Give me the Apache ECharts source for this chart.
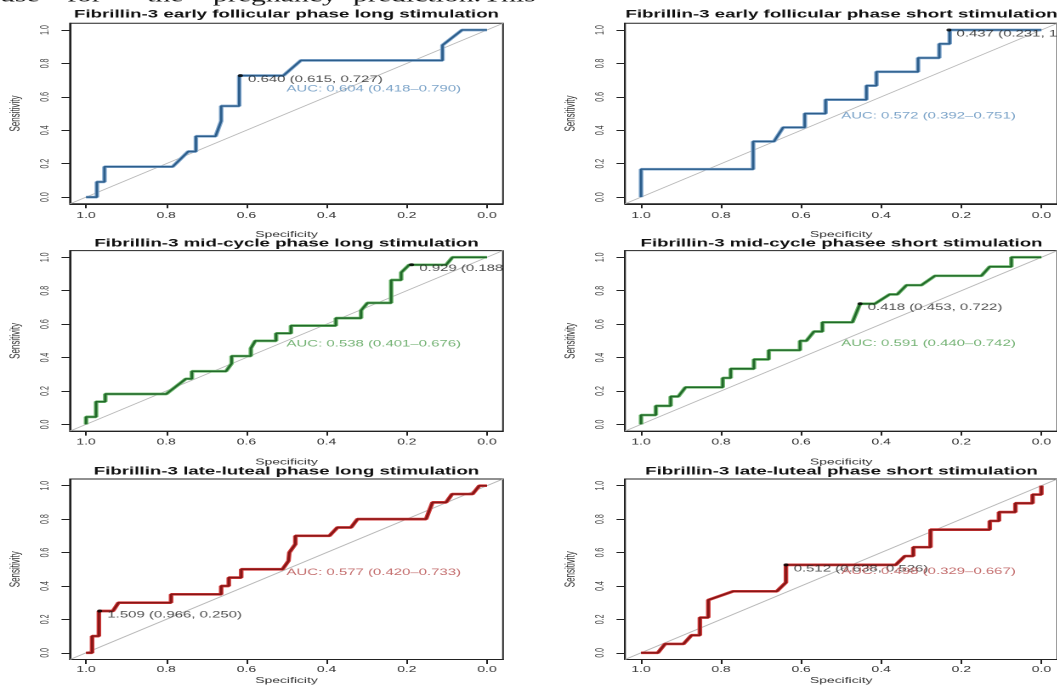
<!DOCTYPE html>
<html>
<head>
<meta charset="utf-8">
<script src="https://cdn.jsdelivr.net/npm/echarts@6/dist/echarts.min.js"></script>
<style>
  html, body { margin: 0; padding: 0; background: #fff; overflow: hidden; }
  #wrap { width: 1057px; height: 687px; overflow: hidden; position: relative; background: #fff; }
  #chart { position: absolute; left: 0; top: 0; height: 687px; transform-origin: 0 0; }
</style>
</head>
<body>
<div id="wrap"><div id="chart"></div></div>
<script>
// the source figure is stretched sideways, so draw narrow and widen with css
const STRETCH = 1.7;

const titles = [
  "Fibrillin-3 early follicular phase long stimulation",
  "Fibrillin-3 early follicular phase short stimulation",
  "Fibrillin-3 mid-cycle phase long stimulation",
  "Fibrillin-3 mid-cycle phasee short stimulation",
  "Fibrillin-3 late-luteal phase long stimulation",
  "Fibrillin-3 late-luteal phase short stimulation",
];

// [specificity, sensitivity]
const rocEarlyLong = [
  [1.000, 0.000], [0.973, 0.000], [0.973, 0.091], [0.954, 0.091], [0.954, 0.182],
  [0.784, 0.182], [0.745, 0.273], [0.726, 0.273], [0.726, 0.364], [0.677, 0.364],
  [0.663, 0.455], [0.663, 0.545], [0.618, 0.545], [0.618, 0.727], [0.508, 0.727],
  [0.464, 0.818], [0.111, 0.818], [0.111, 0.909], [0.062, 1.000], [0.000, 1.000],
];
const rocEarlyShort = [
  [1.000, 0.000], [1.000, 0.167], [0.720, 0.167], [0.720, 0.333], [0.668, 0.333],
  [0.645, 0.417], [0.591, 0.417], [0.591, 0.500], [0.539, 0.500], [0.539, 0.583],
  [0.437, 0.583], [0.437, 0.667], [0.412, 0.667], [0.412, 0.750], [0.308, 0.750],
  [0.308, 0.833], [0.255, 0.833], [0.255, 0.917], [0.229, 0.917], [0.229, 1.000],
  [0.000, 1.000],
];
const rocMidLong = [
  [1.000, 0.000], [1.000, 0.045], [0.975, 0.045], [0.975, 0.136], [0.952, 0.136],
  [0.952, 0.182], [0.800, 0.182], [0.751, 0.273], [0.736, 0.273], [0.736, 0.318],
  [0.651, 0.318], [0.637, 0.364], [0.637, 0.409], [0.589, 0.409], [0.589, 0.455],
  [0.578, 0.500], [0.526, 0.500], [0.526, 0.545], [0.489, 0.545], [0.489, 0.591],
  [0.377, 0.591], [0.377, 0.636], [0.314, 0.636], [0.314, 0.682], [0.298, 0.727],
  [0.239, 0.727], [0.239, 0.864], [0.214, 0.864], [0.214, 0.909], [0.194, 0.955],
  [0.102, 0.955], [0.086, 1.000], [0.000, 1.000],
];
const rocMidShort = [
  [1.000, 0.000], [1.000, 0.056], [0.963, 0.056], [0.963, 0.111], [0.926, 0.111],
  [0.926, 0.167], [0.907, 0.167], [0.889, 0.222], [0.796, 0.222], [0.796, 0.278],
  [0.776, 0.278], [0.776, 0.333], [0.718, 0.333], [0.718, 0.389], [0.681, 0.389],
  [0.681, 0.444], [0.603, 0.444], [0.603, 0.500], [0.587, 0.500], [0.568, 0.556],
  [0.547, 0.556], [0.547, 0.611], [0.472, 0.611], [0.453, 0.722], [0.416, 0.722],
  [0.379, 0.778], [0.360, 0.778], [0.337, 0.833], [0.300, 0.833], [0.266, 0.889],
  [0.150, 0.889], [0.129, 0.944], [0.075, 0.944], [0.075, 1.000], [0.000, 1.000],
];
const rocLateLong = [
  [1.000, 0.000], [0.985, 0.000], [0.985, 0.100], [0.968, 0.100], [0.968, 0.250],
  [0.933, 0.250], [0.919, 0.300], [0.788, 0.300], [0.788, 0.350], [0.663, 0.350],
  [0.663, 0.400], [0.644, 0.400], [0.644, 0.450], [0.613, 0.450], [0.613, 0.500],
  [0.510, 0.500], [0.495, 0.550], [0.493, 0.600], [0.478, 0.650], [0.478, 0.700],
  [0.393, 0.700], [0.373, 0.750], [0.339, 0.750], [0.323, 0.800], [0.152, 0.800],
  [0.136, 0.900], [0.102, 0.900], [0.087, 0.950], [0.036, 0.950], [0.019, 1.000],
  [0.000, 1.000],
];
const rocLateShort = [
  [1.000, 0.000], [0.958, 0.000], [0.940, 0.053], [0.894, 0.053], [0.874, 0.105],
  [0.853, 0.105], [0.853, 0.211], [0.832, 0.211], [0.832, 0.316], [0.770, 0.368],
  [0.661, 0.368], [0.638, 0.421], [0.638, 0.526], [0.364, 0.526], [0.341, 0.579],
  [0.320, 0.579], [0.320, 0.632], [0.277, 0.632], [0.277, 0.737], [0.129, 0.737],
  [0.129, 0.789], [0.106, 0.789], [0.106, 0.842], [0.065, 0.842], [0.065, 0.895],
  [0.022, 0.895], [0.022, 0.947], [0.000, 0.947], [0.000, 1.000],
];
const rocCurves = [rocEarlyLong, rocEarlyShort, rocMidLong, rocMidShort, rocLateLong, rocLateShort];

// best threshold printed on each curve
const thrValue = [0.640, 0.437, 0.929, 0.418, 1.509, 0.512];
const thrSpec = [0.615, 0.231, 0.188, 0.453, 0.966, 0.638];
const thrSens = [0.727, 1.000, 0.955, 0.722, 0.250, 0.526];

const aucValue = [0.604, 0.572, 0.538, 0.591, 0.577, 0.498];
const aucLow = [0.418, 0.392, 0.401, 0.440, 0.420, 0.329];
const aucHigh = [0.790, 0.751, 0.676, 0.742, 0.733, 0.667];
const aucTextX = [0.5, 0.5, 0.5, 0.5, 0.5, 0.5];
const aucTextY = [0.645, 0.485, 0.481, 0.483, 0.481, 0.485];

const tickValues = [0, 0.2, 0.4, 0.6, 0.8, 1.0];
const AX_MIN = -0.04;
const AX_MAX = 1.04;

const headerWords = ["use", "for", "the", "pregnancy", "prediction.", "This"];

// layout, in page pixels (divided by STRETCH for the narrow canvas)
const colLeft = [70, 625];
const boxW = 433;
const rowTop = [23.3, 250.6, 479];
const boxH = 180.5;
const titleY = [14.5, 243.5, 471.5];
const xLabelMargin = [8, 7, 6];
const xNameGap = [27, 27, 17];
const headerX = [0, 67, 147, 213, 353, 483];

const palette = [
  { core: "#2d5e8b", halo: "#86abd0", text: "#5b8dbb" },
  { core: "#22692a", halo: "#72bb72", text: "#52a052" },
  { core: "#861616", halo: "#d23c3c", text: "#b54848" },
];

const FONT = "'Liberation Sans', Arial, Helvetica, sans-serif";
const px = (v) => v / STRETCH;

const chartDom = document.getElementById("chart");
chartDom.style.width = 1057 / STRETCH + "px";
chartDom.style.transform = "scaleX(" + STRETCH + ")";
const myChart = echarts.init(chartDom, null, { devicePixelRatio: 2 });

const grids = [], xAxes = [], yAxes = [], series = [], graphics = [];

rocCurves.forEach((curve, i) => {
  const row = Math.floor(i / 2);
  const col = i % 2;
  const left = px(colLeft[col]);
  const width = px(boxW);
  const colors = palette[row];

  grids.push({
    left: left, top: rowTop[row], width: width, height: boxH,
    show: true, borderColor: "#222", borderWidth: 1, backgroundColor: "#fff",
  });

  xAxes.push({
    gridIndex: i, type: "value", inverse: true, min: AX_MIN, max: AX_MAX, position: "bottom",
    axisLine: { show: true, onZero: false, lineStyle: { color: "#222", width: 1 } },
    axisTick: { show: true, customValues: tickValues, length: 4.5, lineStyle: { color: "#222", width: 1 } },
    axisLabel: {
      customValues: tickValues, formatter: (v) => v.toFixed(1),
      fontFamily: FONT, fontSize: 8.2, color: "#333", margin: xLabelMargin[row],
    },
    splitLine: { show: false },
    name: "Specificity", nameLocation: "middle", nameGap: xNameGap[row],
    nameTextStyle: { fontFamily: FONT, fontSize: 8.2, color: "#333" },
  });

  yAxes.push({
    gridIndex: i, type: "value", min: AX_MIN, max: AX_MAX, position: "left",
    axisLine: { show: true, onZero: false, lineStyle: { color: "#222", width: 1 } },
    axisTick: { show: true, customValues: tickValues, length: 5, lineStyle: { color: "#222", width: 1 } },
    axisLabel: {
      customValues: tickValues, formatter: (v) => v.toFixed(1), rotate: 90,
      fontFamily: FONT, fontSize: 7, color: "#444", margin: 11,
    },
    splitLine: { show: false },
    name: "Sensitivity", nameLocation: "middle", nameGap: 28,
    nameTextStyle: { fontFamily: FONT, fontSize: 8, color: "#333" },
  });

  // chance diagonal across the whole box
  series.push({
    type: "line", xAxisIndex: i, yAxisIndex: i, silent: true, symbol: "none", z: 1,
    data: [[AX_MAX, AX_MIN], [AX_MIN, AX_MAX]],
    lineStyle: { color: "#b8b8b8", width: 0.8 },
  });
  series.push({
    type: "line", xAxisIndex: i, yAxisIndex: i, silent: true, symbol: "none", z: 2,
    data: curve, lineStyle: { color: colors.halo, width: 2.7 },
  });
  series.push({
    type: "line", xAxisIndex: i, yAxisIndex: i, silent: true, symbol: "none", z: 3,
    data: curve, lineStyle: { color: colors.core, width: 1.4 },
  });

  // threshold text is clipped at the box edge, as in R
  const pointX = left + ((AX_MAX - thrSpec[i]) / (AX_MAX - AX_MIN)) * width;
  const labelWidth = left + width - pointX - 3;
  series.push({
    type: "scatter", xAxisIndex: i, yAxisIndex: i, silent: true, z: 4,
    symbol: "circle", symbolSize: 3, itemStyle: { color: "#000" },
    data: [[thrSpec[i], thrSens[i], thrValue[i]]],
    label: {
      show: true, position: "right", distance: 3, offset: [0, 4],
      formatter: (p) =>
        p.value[2].toFixed(3) + " (" + p.value[0].toFixed(3) + ", " + p.value[1].toFixed(3) + ")",
      fontFamily: FONT, fontSize: 8.8, color: "#222",
      width: labelWidth, overflow: "truncate", ellipsis: "",
    },
  });
  series.push({
    type: "scatter", xAxisIndex: i, yAxisIndex: i, silent: true, z: 5,
    symbolSize: 0, data: [[aucTextX[i], aucTextY[i]]],
    label: {
      show: true, position: "right", distance: 0,
      formatter: () =>
        "AUC: " + aucValue[i].toFixed(3) + " (" + aucLow[i].toFixed(3) + "\u2013" + aucHigh[i].toFixed(3) + ")",
      fontFamily: FONT, fontSize: 8.8, color: colors.text,
    },
  });

  graphics.push({
    type: "text", x: left + width / 2, y: titleY[row], z: 10,
    style: {
      text: titles[i], textAlign: "center", textVerticalAlign: "middle",
      font: "bold 11px " + FONT, fill: "#111",
    },
  });
});

// cropped line of body text above the figure
headerWords.forEach((w, k) => {
  graphics.push({
    type: "text", x: px(headerX[k]), y: -3, z: 10,
    style: {
      text: w, textAlign: "left", textVerticalAlign: "middle",
      font: "17.5px 'Liberation Serif', 'Times New Roman', serif", fill: "#111",
    },
  });
});

myChart.setOption({
  backgroundColor: "#fff",
  animation: false,
  grid: grids,
  xAxis: xAxes,
  yAxis: yAxes,
  series: series,
  graphic: graphics,
});
</script>
</body>
</html>
